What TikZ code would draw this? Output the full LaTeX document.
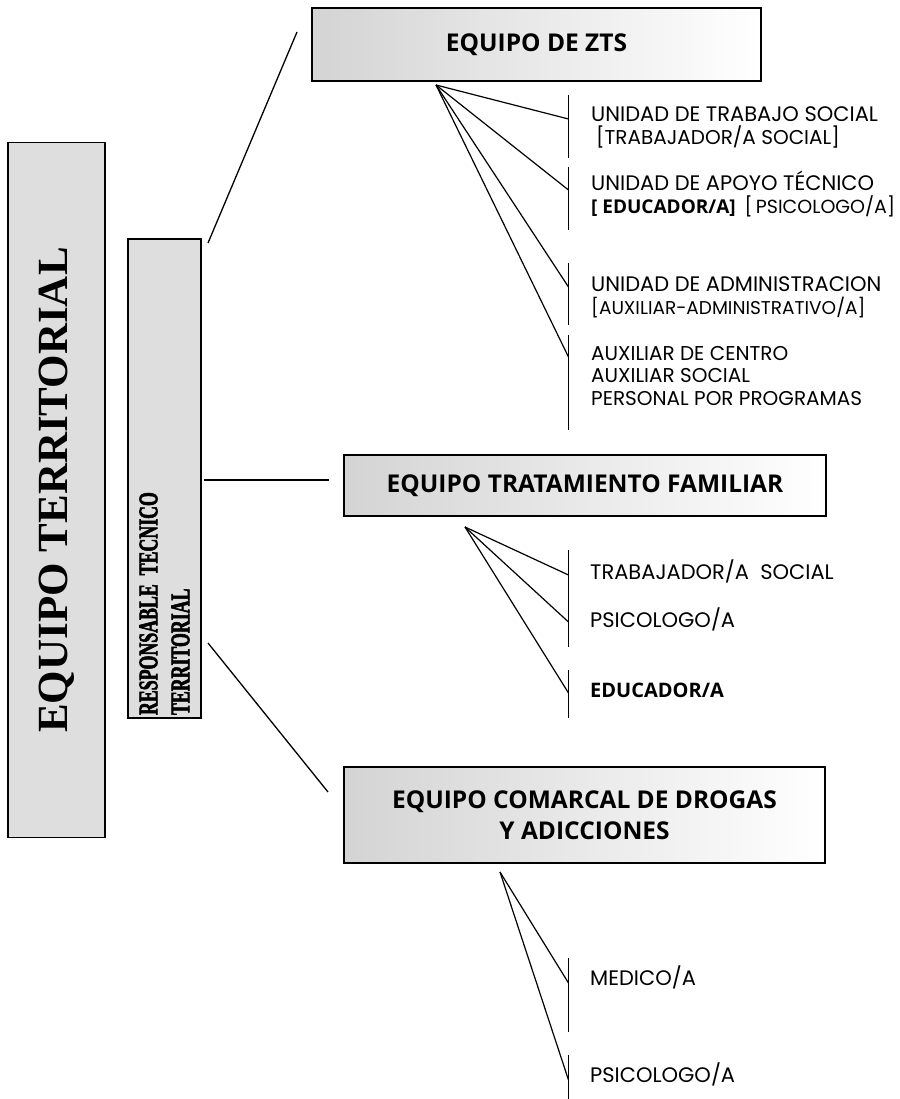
\documentclass[tikz,border=0pt]{standalone}
\usepackage{fontspec}
\setmainfont{Liberation Serif}
\newfontfamily\narrowserif[FakeStretch=0.66, FakeBold=2]{Liberation Serif Bold}
\newfontfamily\gothic{Poppins}
\newfontfamily\heading{Open Sans}

\begin{document}
\begin{tikzpicture}[x=1pt, y=-1pt,
    vbox/.style={draw, line width=1.4pt, fill=black!13, rotate=90},
    hbox/.style={draw, line width=1.4pt, left color=black!17, right color=white, align=center,
        font=\heading\bfseries\fontsize{24.5}{31}\selectfont},
    lbl/.style={anchor=base west, inner sep=0pt, align=left, font=\gothic\fontsize{21}{23}\selectfont},
    bold/.style={font=\heading\bfseries\fontsize{20}{23}\selectfont},
    fan/.style={line width=1.2pt},
    bar/.style={line width=1.8pt},
    link/.style={line width=1.3pt}]
    \useasboundingbox (0,0) rectangle (899,1099);

    \node[vbox, minimum width=695, minimum height=97, font=\bfseries\fontsize{43}{43}\selectfont]
        (ter) at (56.5,490) {EQUIPO TERRITORIAL};
    \node[vbox, minimum width=479, minimum height=73, inner sep=3pt, text width=473, align=left,
        font=\narrowserif\fontsize{27}{32}\selectfont]
        (resp) at (164.5,478.5) {RESPONSABLE TECNICO\\TERRITORIAL};

    \node[hbox, minimum width=449, minimum height=73] (zts) at (536.5,44.5) {EQUIPO DE ZTS};
    \node[hbox, minimum width=482, minimum height=61] (tf) at (585,485.5) {EQUIPO TRATAMIENTO FAMILIAR};
    \node[hbox, minimum width=481, minimum height=96] (drogas) at (584.5,815) {EQUIPO COMARCAL DE DROGAS\\Y ADICCIONES};

    \coordinate (resp-a) at (208,243);
    \coordinate (resp-b) at (204,480);
    \coordinate (resp-c) at (208,643);
    \coordinate (zts-in) at (297,32);
    \coordinate (tf-in) at (329,480);
    \coordinate (drogas-in) at (328,792);
    \draw[link] (resp-a) -- (zts-in);
    \draw[link] (resp-b) -- (tf-in);
    \draw[link] (resp-c) -- (drogas-in);

    \coordinate (zts-fan) at (436,85);
    \coordinate (tf-fan) at (465,527);
    \coordinate (drogas-fan) at (500,872);
    \foreach \a/\b in {95/158,167/230,263/325,335/430,550/647,670/718,958/1032,1055/1099}
        \draw[bar] (568.5,\a) -- (568.5,\b);
    \foreach \f/\y in {zts/119,zts/190,zts/287,zts/357,tf/575,tf/622,tf/693,drogas/983,drogas/1080} {
        \coordinate (end-\y) at (568.5,\y);
        \draw[fan] (\f-fan) -- (end-\y);
    }

    \node[lbl] (uts) at (591,145) {UNIDAD DE TRABAJO SOCIAL\\{\fontsize{20}{23}\selectfont\hspace{5pt}[TRABAJADOR/A SOCIAL]}};
    \node[lbl] (uat) at (591,214) {UNIDAD DE APOYO TÉCNICO\\{\heading\bfseries\fontsize{19}{23}\selectfont [ EDUCADOR/A]}\hspace{9pt}{\fontsize{19}{23}\selectfont[\,PSICOLOGO/A]}};
    \node[lbl] (uad) at (591,314) {UNIDAD DE ADMINISTRACION\\{\fontsize{18.5}{23}\selectfont[AUXILIAR-ADMINISTRATIVO/A]}};
    \node[lbl, font=\gothic\fontsize{20}{22.5}\selectfont] (aux) at (591,405) {AUXILIAR DE CENTRO\\AUXILIAR SOCIAL\\PERSONAL POR PROGRAMAS};

    \node[lbl] (tf-ts) at (590,579) {TRABAJADOR/A\ \ SOCIAL};
    \node[lbl] (tf-ps) at (590,627) {PSICOLOGO/A};
    \node[lbl, bold] (tf-ed) at (590,697) {EDUCADOR/A};

    \node[lbl] (dr-me) at (590,985) {MEDICO/A};
    \node[lbl] (dr-ps) at (590,1082) {PSICOLOGO/A};
\end{tikzpicture}
\end{document}
